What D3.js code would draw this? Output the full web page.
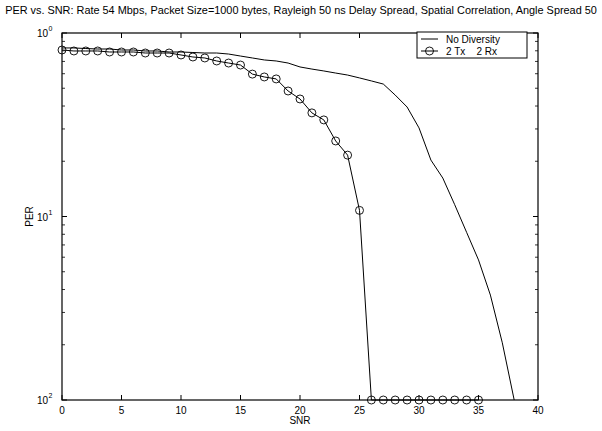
<!DOCTYPE html>
<html><head><meta charset="utf-8">
<script src="https://cdn.jsdelivr.net/npm/d3@7"></script>
<style>body{margin:0;background:#fff}text{font-family:"Liberation Sans",Arial,sans-serif;fill:#000}</style>
</head><body><svg id="c" width="602" height="431"></svg>
<script>
const titleText = "PER vs. SNR: Rate 54 Mbps, Packet Size=1000 bytes, Rayleigh 50 ns Delay Spread, Spatial Correlation, Angle Spread 50";
const snrNoDiv = [0,1,2,3,4,5,6,7,8,9,10,11,12,13,14,15,16,17,18,19,20,21,22,23,24,25,26,27,28,29,30,31,32,33,34,35,36,37,38];
const perNoDiv = [0.829,0.829,0.823,0.818,0.818,0.808,0.808,0.798,0.798,0.788,0.788,0.783,0.778,0.778,0.768,0.749,0.731,0.713,0.704,0.686,0.653,0.636,0.621,0.605,0.590,0.569,0.548,0.527,0.459,0.395,0.304,0.203,0.162,0.116,0.082,0.058,0.0373,0.0205,0.01];
const snr2x2 = [0,1,2,3,4,5,6,7,8,9,10,11,12,13,14,15,16,17,18,19,20,21,22,23,24,25,26,27,28,29,30,31,32,33,34,35];
const per2x2 = [0.808,0.798,0.798,0.798,0.788,0.788,0.788,0.778,0.778,0.778,0.759,0.740,0.731,0.704,0.686,0.669,0.597,0.576,0.562,0.483,0.437,0.367,0.336,0.258,0.216,0.108,0.01,0.01,0.01,0.01,0.01,0.01,0.01,0.01,0.01,0.01];
const xTicks = [0,5,10,15,20,25,30,35,40];
const yTicks = [1,0.1,0.01];
const yTickExp = ["0","1","2"];
const legendLabels = ["No Diversity","2 Tx    2 Rx"];

const svg = d3.select("#c");
const L=62,R=538,T=33,B=400;
const x = d3.scaleLinear().domain([0,40]).range([L,R]);
const y = d3.scaleLog().domain([0.01,1]).range([B,T]);

svg.append("text").attr("x",301).attr("y",14).attr("text-anchor","middle").attr("font-size","10.9px").text(titleText);

const g = svg.append("g");
const minor=[];
[0.01,0.1].forEach(d=>{for(let k=2;k<=9;k++)minor.push(d*k);});
minor.forEach(v=>{
  g.append("line").attr("x1",L).attr("x2",L+3).attr("y1",y(v)).attr("y2",y(v)).attr("stroke","#000").attr("stroke-width",0.8);
  g.append("line").attr("x1",R).attr("x2",R-3).attr("y1",y(v)).attr("y2",y(v)).attr("stroke","#000").attr("stroke-width",0.8);
});
yTicks.forEach((v,i)=>{
  g.append("line").attr("x1",L).attr("x2",L+5).attr("y1",y(v)).attr("y2",y(v)).attr("stroke","#000");
  g.append("line").attr("x1",R).attr("x2",R-5).attr("y1",y(v)).attr("y2",y(v)).attr("stroke","#000");
  const t=g.append("text").attr("x",48).attr("y",y(v)+4).attr("text-anchor","end").attr("font-size","10px");
  t.append("tspan").text("10");
  g.append("text").attr("x",48.5).attr("y",y(v)-2).attr("font-size","7px").text(yTickExp[i]);
});
xTicks.forEach(v=>{
  g.append("line").attr("x1",x(v)).attr("x2",x(v)).attr("y1",B).attr("y2",B-5).attr("stroke","#000");
  g.append("line").attr("x1",x(v)).attr("x2",x(v)).attr("y1",T).attr("y2",T+5).attr("stroke","#000");
  g.append("text").attr("x",x(v)).attr("y",B+14).attr("text-anchor","middle").attr("font-size","10px").text(v);
});
g.append("rect").attr("x",L).attr("y",T).attr("width",R-L).attr("height",B-T).attr("fill","none").attr("stroke","#000").attr("stroke-width",1.2);

svg.append("text").attr("x",300).attr("y",424).attr("text-anchor","middle").attr("font-size","10px").text("SNR");
svg.append("text").attr("transform","translate(33,"+((T+B)/2)+") rotate(-90)").attr("text-anchor","middle").attr("font-size","10px").text("PER");

const line = d3.line().x(d=>x(d[0])).y(d=>y(d[1]));
svg.append("path").datum(snrNoDiv.map((s,i)=>[s,perNoDiv[i]])).attr("d",line).attr("fill","none").attr("stroke","#000").attr("stroke-width",1);
const d2 = snr2x2.map((s,i)=>[s,per2x2[i]]);
svg.append("path").datum(d2).attr("d",line).attr("fill","none").attr("stroke","#000").attr("stroke-width",1);
svg.selectAll("circle.m").data(d2).enter().append("circle").attr("class","m").attr("cx",d=>x(d[0])).attr("cy",d=>y(d[1])).attr("r",4).attr("fill","none").attr("stroke","#000").attr("stroke-width",0.9);

const lg = svg.append("g");
lg.append("rect").attr("x",417).attr("y",32).attr("width",110).attr("height",26).attr("fill","#fff").attr("stroke","#000").attr("stroke-width",1);
lg.append("line").attr("x1",421).attr("x2",438).attr("y1",39).attr("y2",39).attr("stroke","#000");
lg.append("text").attr("x",446).attr("y",42.5).attr("font-size","10px").text(legendLabels[0]);
lg.append("line").attr("x1",421).attr("x2",438).attr("y1",51).attr("y2",51).attr("stroke","#000");
lg.append("circle").attr("cx",429.5).attr("cy",51).attr("r",4).attr("fill","none").attr("stroke","#000").attr("stroke-width",0.9);
lg.append("text").attr("x",446).attr("y",54.5).attr("font-size","10px").style("white-space","pre").text(legendLabels[1]);
</script></body></html>
